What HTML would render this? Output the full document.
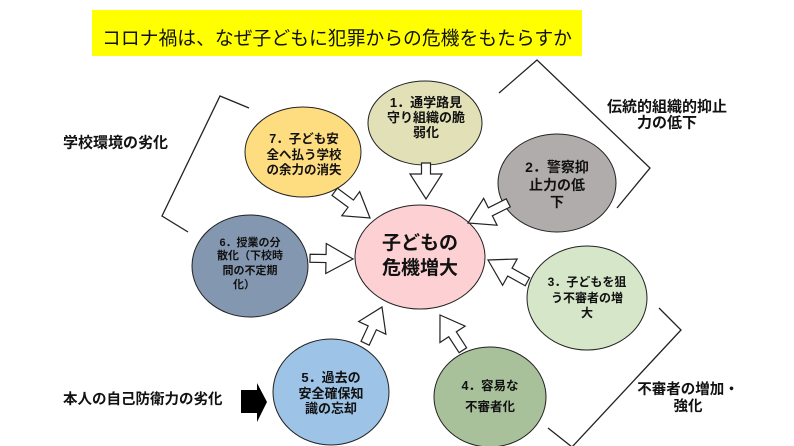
<!DOCTYPE html>
<html><head><meta charset="utf-8">
<style>
html,body{margin:0;padding:0;background:#fff;}
svg{display:block;}
text{font-family:"Liberation Sans","Noto Sans CJK JP",sans-serif;}
.b{font-weight:bold;fill:#111;}
</style></head>
<body>
<svg width="794" height="446" viewBox="0 0 794 446" xmlns="http://www.w3.org/2000/svg">
<rect x="0" y="0" width="794" height="446" fill="#fff"/>
<!-- title -->
<rect x="92" y="10" width="490" height="46" fill="#ffff00"/>
<text x="337" y="39" font-size="19" text-anchor="middle" dominant-baseline="central" fill="#111" textLength="470" lengthAdjust="spacingAndGlyphs">コロナ禍は、なぜ子どもに犯罪からの危機をもたらすか</text>

<!-- brackets -->
<g fill="none" stroke="#222" stroke-width="1.3">
<polyline points="249,108 220,96 162,216 188,232"/>
<polyline points="499,93 537,60 650,168 617,208"/>
<polyline points="659,308 681,330 572,447 548,428"/>
</g>

<!-- ellipses -->
<g stroke="#222" stroke-width="1">
<ellipse cx="425" cy="123" rx="57" ry="42" fill="#e1e0b6"/>
<ellipse cx="303" cy="152" rx="58" ry="45" fill="#fedc80"/>
<ellipse cx="557" cy="183" rx="59" ry="49" fill="#b0acac"/>
<ellipse cx="420" cy="257" rx="65" ry="52" fill="#fdd1d3"/>
<ellipse cx="250" cy="266" rx="58" ry="51" fill="#8497b0"/>
<ellipse cx="587" cy="298" rx="60" ry="52" fill="#d6e6c9"/>
<ellipse cx="490" cy="397" rx="56" ry="50" fill="#a9c19b"/>
<ellipse cx="331" cy="392" rx="58" ry="53" fill="#9dc3e6"/>
</g>

<!-- open block arrows -->
<g fill="#fff" stroke="#222" stroke-width="1.2" stroke-linejoin="miter">
<polygon transform="translate(426,199) rotate(90)" points="-36,-4.5 -25,-4.5 -25,-16 0,0 -25,16 -25,4.5 -36,4.5"/>
<polygon transform="translate(370,218) rotate(36.6)" points="-44,-4.5 -24,-4.5 -24,-15 0,0 -24,15 -24,4.5 -44,4.5"/>
<polygon transform="translate(468,223) rotate(153.4)" points="-45,-4.5 -25,-4.5 -25,-15 0,0 -25,15 -25,4.5 -45,4.5"/>
<polygon transform="translate(353,259) rotate(1)" points="-43,-4 -27,-4 -27,-15 0,0 -27,15 -27,4 -43,4"/>
<polygon transform="translate(488,260) rotate(209)" points="-45,-4.5 -25,-4.5 -25,-15 0,0 -25,15 -25,4.5 -45,4.5"/>
<polygon transform="translate(382,307) rotate(-65)" points="-40,-4.5 -23,-4.5 -23,-15 0,0 -23,15 -23,4.5 -40,4.5"/>
<polygon transform="translate(440,315) rotate(237)" points="-42,-4.5 -23,-4.5 -23,-15 0,0 -23,15 -23,4.5 -42,4.5"/>
</g>

<!-- black block arrow -->
<polygon points="241,390 257,390 257,383 267,402 257,422 257,413 241,413" fill="#000"/>

<!-- node texts -->
<g class="b" text-anchor="middle" dominant-baseline="central">
<text font-size="13"><tspan x="426" y="102">1．通学路見</tspan><tspan x="426" y="117">守り組織の脆</tspan><tspan x="426" y="132">弱化</tspan></text>
<text font-size="12.5"><tspan x="304" y="139">7．子ども安</tspan><tspan x="304" y="155">全へ払う学校</tspan><tspan x="304" y="170">の余力の消失</tspan></text>
<text font-size="14"><tspan x="557" y="167">2．警察抑</tspan><tspan x="557" y="185">止力の低</tspan><tspan x="557" y="202">下</tspan></text>
<text font-size="19"><tspan x="420" y="243">子どもの</tspan><tspan x="420" y="268">危機増大</tspan></text>
<text font-size="11"><tspan x="250" y="243">6．授業の分</tspan><tspan x="250" y="256">散化（下校時</tspan><tspan x="250" y="271">間の不定期</tspan><tspan x="244" y="285">化）</tspan></text>
<text font-size="12"><tspan x="587" y="282">3．子どもを狙</tspan><tspan x="587" y="298">う不審者の増</tspan><tspan x="587" y="313">大</tspan></text>
<text font-size="12.5"><tspan x="490" y="386">4．容易な</tspan><tspan x="490" y="407">不審者化</tspan></text>
<text font-size="13"><tspan x="331" y="377">5．過去の</tspan><tspan x="331" y="393">安全確保知</tspan><tspan x="331" y="408">識の忘却</tspan></text>
</g>

<!-- side labels -->
<g class="b" dominant-baseline="central" font-size="15">
<text x="63" y="143">学校環境の劣化</text>
<text x="63" y="400" font-size="14.5">本人の自己防衛力の劣化</text>
<text x="667" y="107" text-anchor="middle">伝統的組織的抑止</text>
<text x="667" y="123" text-anchor="middle">力の低下</text>
<text x="688" y="390" text-anchor="middle" font-size="14.5">不審者の増加・</text>
<text x="688" y="407" text-anchor="middle" font-size="14.5">強化</text>
</g>
</svg>
</body></html>
